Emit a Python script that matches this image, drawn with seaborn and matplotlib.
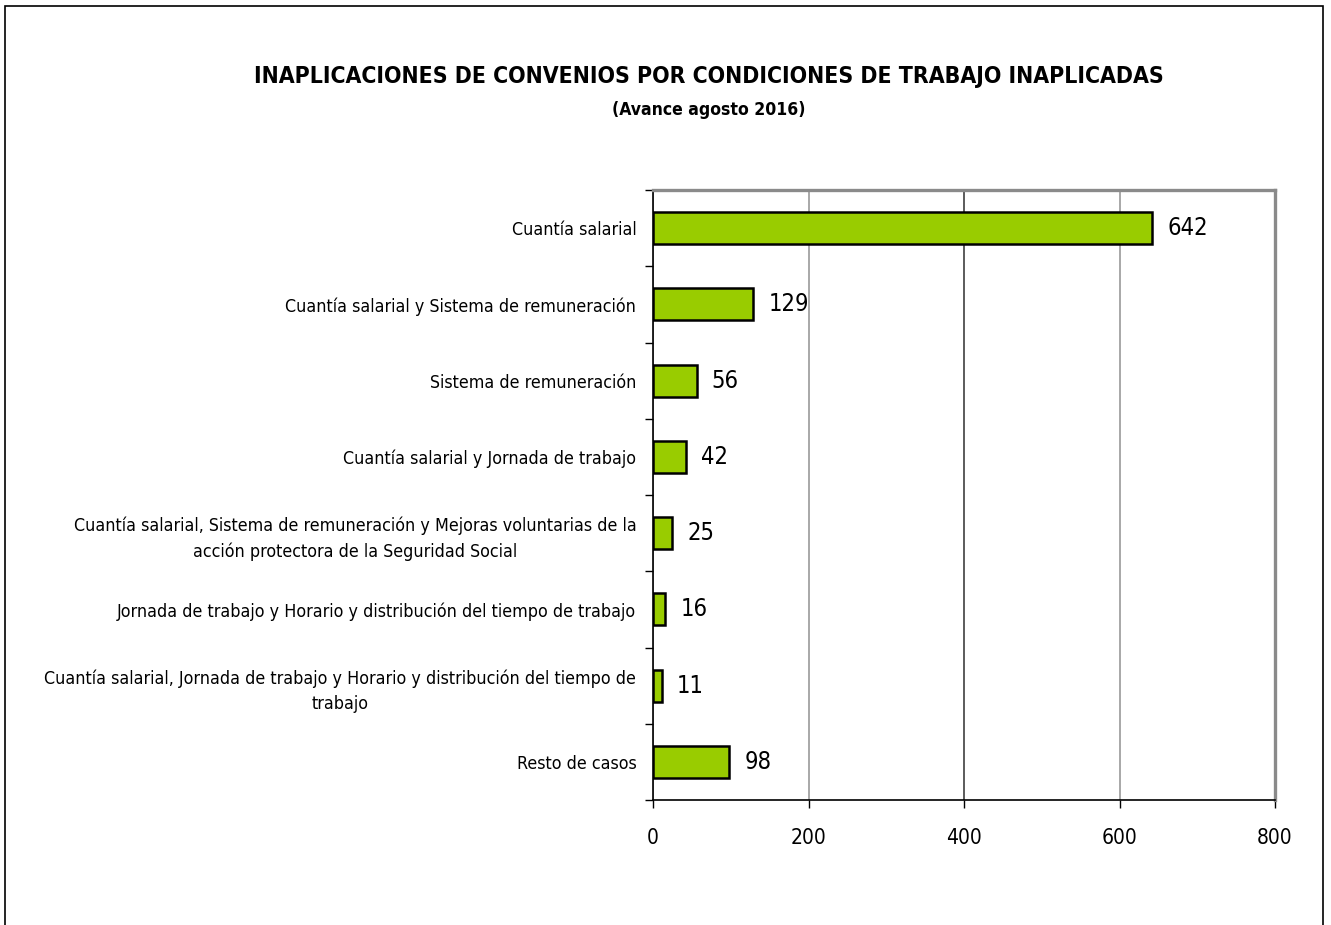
import matplotlib
matplotlib.use("Agg")
import matplotlib.pyplot as plt
from matplotlib import font_manager
from matplotlib.font_manager import FontProperties
from matplotlib.patches import Rectangle
from matplotlib.ticker import FixedLocator
import seaborn as sns
import pandas as pd

categories = [
    "Cuantía salarial",
    "Cuantía salarial y Sistema de remuneración",
    "Sistema de remuneración",
    "Cuantía salarial y Jornada de trabajo",
    "Cuantía salarial, Sistema de remuneración y Mejoras voluntarias de la\nacción protectora de la Seguridad Social",
    "Jornada de trabajo y Horario y distribución del tiempo de trabajo",
    "Cuantía salarial, Jornada de trabajo y Horario y distribución del tiempo de\ntrabajo",
    "Resto de casos",
]
values = [642, 129, 56, 42, 25, 16, 11, 98]
xticks = [0, 200, 400, 600, 800]
title = "INAPLICACIONES DE CONVENIOS POR CONDICIONES DE TRABAJO INAPLICADAS"
subtitle = "(Avance agosto 2016)"

sns.set_theme(style="white")

# pick a narrow font if one is installed
family = "Liberation Sans"
stretch = "normal"
narrow = False
for cand in ["Liberation Sans Narrow", "Arial Narrow"]:
    try:
        font_manager.findfont(cand, fallback_to_default=False)
        family = cand
        narrow = True
        break
    except Exception:
        pass
if not narrow:
    try:
        f = font_manager.findfont(FontProperties(family="DejaVu Sans", stretch="condensed"),
                                  fallback_to_default=False)
        if "ondensed" in f:
            family = "DejaVu Sans"
            stretch = "condensed"
            narrow = True
    except Exception:
        pass

plt.rcParams["font.family"] = [family, "DejaVu Sans"]
plt.rcParams["font.stretch"] = stretch
plt.rcParams["text.color"] = "black"
plt.rcParams["xtick.color"] = "black"
plt.rcParams["ytick.color"] = "black"
plt.rcParams["xtick.labelcolor"] = "black"
plt.rcParams["ytick.labelcolor"] = "black"

if narrow and family != "DejaVu Sans":
    s_lab, s_val, s_tick, s_title, s_sub = 14, 20, 18, 17.5, 13
elif narrow:
    s_lab, s_val, s_tick, s_title, s_sub = 12.8, 17, 15, 16.5, 12.6
else:
    s_lab, s_val, s_tick, s_title, s_sub = 12.9, 17.5, 15.3, 16.5, 13.7

df = pd.DataFrame({"cat": categories, "val": values})

fig = plt.figure(figsize=(13.31, 9.25), dpi=100)
ax = fig.add_axes([653 / 1331, 1 - 800 / 925, (1275 - 653) / 1331, (800 - 190) / 925])

sns.barplot(data=df, x="val", y="cat", orient="h", color="#99CC00", saturation=1,
            width=0.42, edgecolor="black", linewidth=1.8, ax=ax, zorder=3)

ax.set_xlim(0, 800)
ax.set_ylim(7.5, -0.5)
ax.set_xticks(xticks)
ax.set_xticklabels([str(t) for t in xticks], fontsize=s_tick)
ax.xaxis.grid(True, color="#9a9a9a", linewidth=1.2, zorder=0)
gl = ax.get_xgridlines()
if len(gl) > 2:
    gl[2].set_color("#404040")
ax.yaxis.grid(False)
ax.set_xlabel("")
ax.set_ylabel("")

ax.set_yticks(range(len(categories)))
ax.set_yticklabels(categories, fontsize=s_lab, multialignment="center", linespacing=1.5)
ax.yaxis.set_minor_locator(FixedLocator([i - 0.5 for i in range(len(categories) + 1)]))
ax.tick_params(axis="y", which="major", length=0, pad=12)
ax.tick_params(axis="y", which="minor", length=6, width=1, color="black", direction="out", left=True)
ax.tick_params(axis="x", which="major", length=6, width=1, color="black", direction="out", bottom=True, pad=14)

for side in ["top", "right"]:
    ax.spines[side].set_color("#8a8a8a")
    ax.spines[side].set_linewidth(2.4)
ax.spines["left"].set_color("black")
ax.spines["left"].set_linewidth(1.2)
ax.spines["bottom"].set_color("black")
ax.spines["bottom"].set_linewidth(1.2)

for i, v in enumerate(values):
    ax.annotate(str(v), xy=(v, i), xytext=(11, 0), textcoords="offset points",
                va="center", ha="left", fontsize=s_val, color="black")

fig.text(709 / 1331, 1 - 77 / 925, title, ha="center", va="center",
         fontsize=s_title, fontweight="bold", color="black")
fig.text(709 / 1331, 1 - 110 / 925, subtitle, ha="center", va="center",
         fontsize=s_sub, fontweight="bold", color="black")

fig.patches.append(Rectangle((5 / 1331, -0.05), (1323 - 5) / 1331, 1.05 - 6 / 925,
                             transform=fig.transFigure, fill=False,
                             edgecolor="black", linewidth=1.2))

fig.savefig("out.png", dpi=100)
